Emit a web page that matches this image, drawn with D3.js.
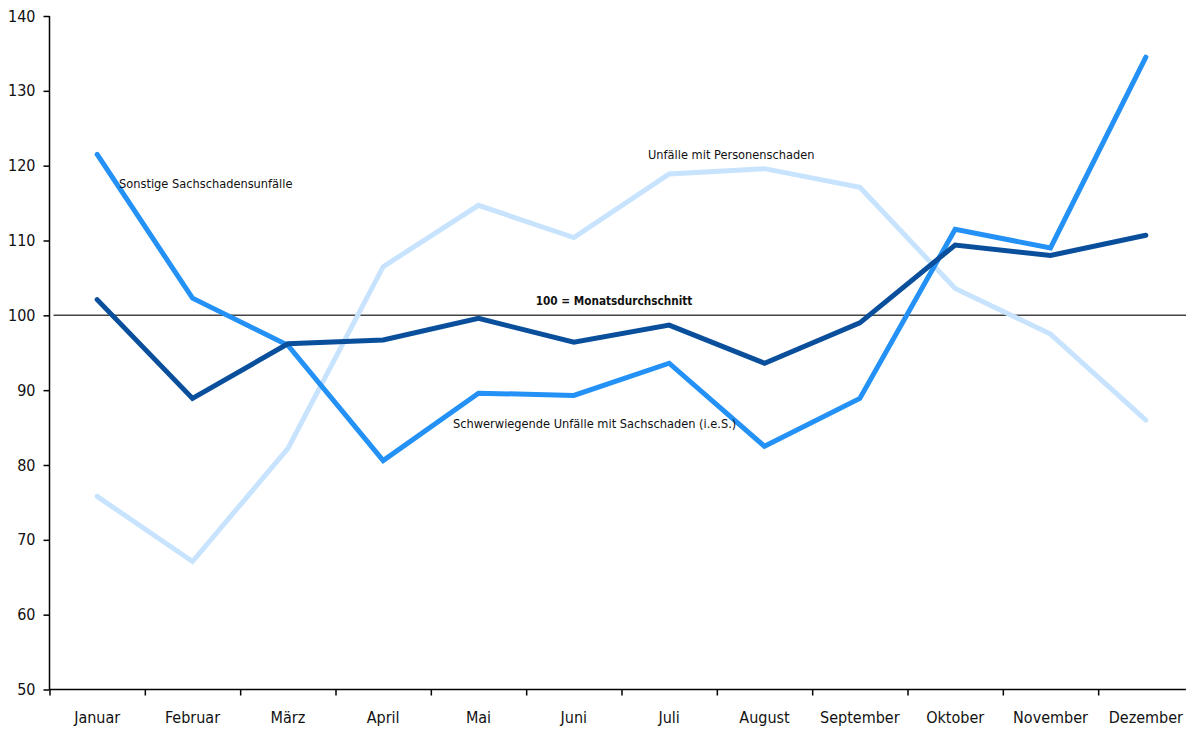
<!DOCTYPE html>
<html>
<head>
<meta charset="utf-8">
<script src="https://cdn.jsdelivr.net/npm/d3@7"></script>
<style>
  body { margin: 0; background: #fff; }
  svg { display: block; font-family: "DejaVu Sans", sans-serif; font-stretch: condensed; }
  .axis path, .axis line { stroke: #000; stroke-width: 1.5; }
  .axis text { fill: #111; font-size: 16px; font-family: "DejaVu Sans", sans-serif; }
  .lbl { fill: #111; font-size: 12.7px; }
</style>
</head>
<body>
<svg id="chart" width="1186" height="729"></svg>
<script>
// months on the x axis
var months = ["Januar", "Februar", "März", "April", "Mai", "Juni", "Juli",
              "August", "September", "Oktober", "November", "Dezember"];

// index values (100 = Monatsdurchschnitt)
var personenschaden = [75.8, 67.1, 82.2, 106.5, 114.7, 110.4, 118.9, 119.6, 117.1, 103.6, 97.5, 86.0];
var sonstigeSach = [121.5, 102.3, 96.0, 80.6, 89.6, 89.3, 93.6, 82.5, 88.9, 111.5, 109.0, 134.5];
var schwerSach = [102.1, 88.9, 96.2, 96.7, 99.6, 96.4, 98.7, 93.6, 99.0, 109.4, 108.0, 110.7];

var yTicks = [50, 60, 70, 80, 90, 100, 110, 120, 130, 140];

var series = [
  {name: "Unfälle mit Personenschaden", values: personenschaden, color: "#c8e3fd"},
  {name: "Sonstige Sachschadensunfälle", values: sonstigeSach, color: "#2391f5"},
  {name: "Schwerwiegende Unfälle mit Sachschaden (i.e.S.)", values: schwerSach, color: "#0a4f9c"}
];

var svg = d3.select("#chart");

/* plot area */
var plotLeft = 49.5, plotRight = 1193.5, plotTop = 16, plotBottom = 689.5;

var x = d3.scaleBand().domain(months).range([plotLeft, plotRight]).padding(0);
var xEdge = d3.scaleLinear().domain([0, 12]).range([plotLeft, plotRight]);
var y = d3.scaleLinear().domain([50, 140]).range([plotBottom, plotTop]);

/* reference line at 100 */
svg.append("line")
    .attr("x1", plotLeft + 4).attr("x2", 1186)
    .attr("y1", y(100)).attr("y2", y(100))
    .attr("stroke", "#444").attr("stroke-width", 1.5);

svg.append("text")
    .attr("class", "lbl")
    .attr("x", 614)
    .attr("y", y(100) - 10)
    .attr("text-anchor", "middle")
    .style("font-weight", "bold")
    .style("font-size", "11.7px")
    .text("100 = Monatsdurchschnitt");

/* lines */
var line = d3.line()
    .x(function(d, i) { return x(months[i]) + x.bandwidth() / 2; })
    .y(function(d) { return y(d); });

svg.selectAll(".series")
    .data(series)
    .enter()
    .append("path")
    .attr("class", "series")
    .attr("d", function(d) { return line(d.values); })
    .attr("fill", "none")
    .attr("stroke", function(d) { return d.color; })
    .attr("stroke-width", 5)
    .attr("stroke-linecap", "round")
    .attr("stroke-linejoin", "miter");

/* series labels */
svg.append("text").attr("class", "lbl")
    .attr("x", 119).attr("y", 188)
    .text("Sonstige Sachschadensunfälle");

svg.append("text").attr("class", "lbl")
    .attr("x", 648).attr("y", 159)
    .text("Unfälle mit Personenschaden");

svg.append("text").attr("class", "lbl")
    .attr("x", 453).attr("y", 428)
    .text("Schwerwiegende Unfälle mit Sachschaden (i.e.S.)");

/* y axis */
svg.append("g")
    .attr("class", "axis")
    .attr("transform", "translate(" + plotLeft + ",0)")
    .call(d3.axisLeft(y).tickValues(yTicks).tickSize(6).tickPadding(8))
    .call(function(g) { g.select(".domain").attr("d", "M0," + plotTop + "V" + plotBottom); });

/* x axis: line + boundary ticks */
svg.append("g")
    .attr("class", "axis")
    .attr("transform", "translate(0," + plotBottom + ")")
    .call(d3.axisBottom(xEdge).tickValues(d3.range(0, 12)).tickSize(6).tickFormat(""))
    .call(function(g) { g.select(".domain").attr("d", "M" + plotLeft + ",0H1186"); });

/* x axis: month labels */
svg.append("g")
    .attr("class", "axis")
    .attr("transform", "translate(0," + plotBottom + ")")
    .call(d3.axisBottom(x).tickSize(0).tickPadding(22))
    .call(function(g) { g.select(".domain").remove(); });
</script>
</body>
</html>
